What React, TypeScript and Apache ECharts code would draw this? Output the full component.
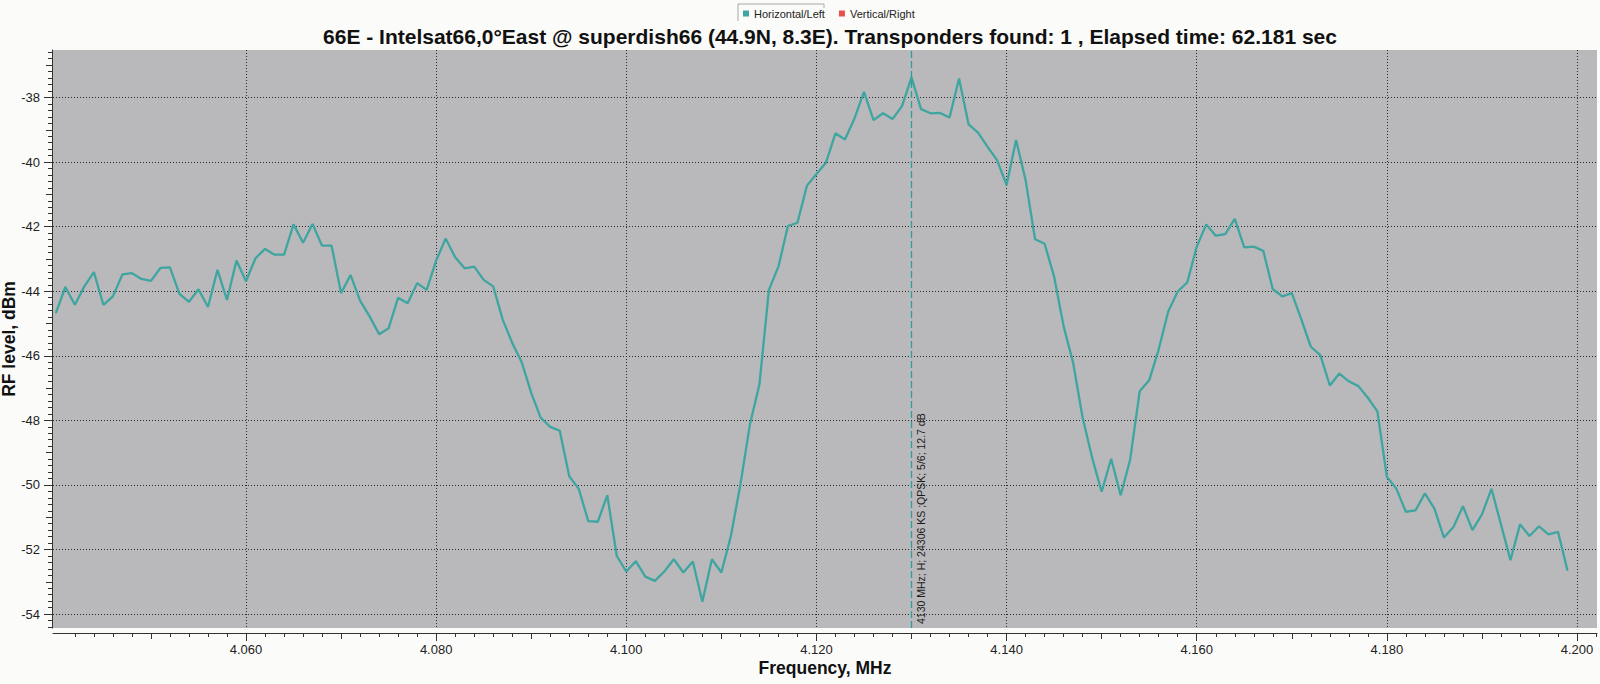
import React, { useEffect, useRef } from "react";
import * as echarts from "echarts";

// ---- data ----
const startFreq = 4.04; // first sweep point
const stepFreq = 0.001; // 1 MHz sweep step
const rfLevels = [
  -44.68, -43.87, -44.42, -43.85, -43.41, -44.42, -44.16, -43.48, -43.44, -43.62,
  -43.68, -43.28, -43.26, -44.08, -44.33, -43.94, -44.49, -43.34, -44.27, -43.05,
  -43.69, -42.98, -42.69, -42.87, -42.87, -41.93, -42.5, -41.92, -42.59, -42.59,
  -44.06, -43.5, -44.29, -44.78, -45.33, -45.15, -44.2, -44.37, -43.75, -43.96,
  -43.05, -42.37, -42.95, -43.29, -43.24, -43.65, -43.85, -44.88, -45.6, -46.2,
  -47.15, -47.92, -48.2, -48.32, -49.73, -50.12, -51.12, -51.14, -50.32, -52.2,
  -52.68, -52.36, -52.84, -52.97, -52.68, -52.3, -52.71, -52.37, -53.62, -52.3,
  -52.71, -51.58, -49.99, -48.13, -46.89, -43.96, -43.24, -41.98, -41.88, -40.73,
  -40.37, -40.02, -39.11, -39.3, -38.65, -37.83, -38.7, -38.49, -38.67, -38.27,
  -37.38, -38.36, -38.49, -38.48, -38.62, -37.41, -38.83, -39.09, -39.53, -39.94,
  -40.71, -39.32, -40.56, -42.39, -42.53, -43.55, -45.09, -46.22, -47.92, -49.16,
  -50.21, -49.19, -50.32, -49.21, -47.1, -46.76, -45.8, -44.63, -44.01, -43.73,
  -42.62, -41.93, -42.28, -42.23, -41.76, -42.64, -42.62, -42.75, -43.94, -44.16,
  -44.06, -44.87, -45.72, -45.98, -46.92, -46.55, -46.79, -46.94, -47.3, -47.72,
  -49.75, -50.12, -50.83, -50.79, -50.26, -50.73, -51.63, -51.3, -50.66, -51.4,
  -50.91, -50.12, -51.22, -52.33, -51.22, -51.58, -51.28, -51.53, -51.45, -52.66,
];
const seriesNames = ["Horizontal/Left", "Vertical/Right"];
const xTickLabels = [4.06, 4.08, 4.1, 4.12, 4.14, 4.16, 4.18, 4.2];
const yTickLabels = [-54, -52, -50, -48, -46, -44, -42, -40, -38];
const transponderFreq = 4.13;
const transponderLabel = "4130 MHz; H; 24306 KS ;QPSK; 5/6; 12.7 dB";
const titleText =
  "66E - Intelsat66,0°East @ superdish66 (44.9N, 8.3E). Transponders found: 1 , Elapsed time: 62.181 sec";
const xAxisName = "Frequency, MHz";
const yAxisName = "RF level, dBm";

const X_MIN = 4.0397;
const X_MAX = 4.2021;
const Y_MIN = -54.43;
const Y_MAX = -36.53;

function steps(from: number, to: number, step: number, digits: number) {
  const out: number[] = [];
  const n = Math.round((to - from) / step);
  for (let i = 0; i <= n; i++) out.push(Number((from + i * step).toFixed(digits)));
  return out;
}

const FONT = "'Liberation Sans', Arial, sans-serif";
const TEAL = "#3fa5a0";
const RED = "#e8504c";

export default function App() {
  const ref = useRef<HTMLDivElement>(null);
  useEffect(() => {
    if (!ref.current) return;
    const chart = echarts.init(ref.current, null, { renderer: "svg" });
    const xMinor = steps(4.042, 4.202, 0.002, 3);
    const xMid = steps(4.05, 4.19, 0.02, 3);
    const yMinor = steps(-54.4, -36.6, 0.2, 1);
    const yMid = steps(-53, -37, 2, 0);
    const data = rfLevels.map((v, i) => [Number((startFreq + i * stepFreq).toFixed(3)), v]);

    const gridLine = { show: true, lineStyle: { color: "#2a2a2a", width: 1, type: [1, 2] as any } };
    const baseX = {
      type: "value" as const,
      min: X_MIN,
      max: X_MAX,
      position: "bottom" as const,
      offset: 5,
      gridIndex: 0,
    };
    const baseY = {
      type: "value" as const,
      min: Y_MIN,
      max: Y_MAX,
      position: "left" as const,
      offset: 1,
      gridIndex: 0,
    };
    const nameFont = `bold 17.5px ${FONT}`;

    chart.setOption({
      animation: false,
      backgroundColor: "#fbfbf9",
      title: {
        text: titleText,
        left: 825,
        top: 21,
        textAlign: "center",
        textStyle: { fontFamily: FONT, fontWeight: "bold", fontSize: 21, color: "#111" },
      },
      legend: {
        data: seriesNames,
        left: 738,
        top: 3,
        icon: "rect",
        itemWidth: 6,
        itemHeight: 6,
        itemGap: 14,
        textStyle: { fontFamily: FONT, fontSize: 11, color: "#222" },
        selectedMode: false,
      },
      grid: {
        left: 53,
        right: 3,
        top: 50,
        bottom: 56,
        show: true,
        backgroundColor: "#b9b9bb",
        borderWidth: 0,
        containLabel: false,
        outerBoundsMode: "none",
      },
      xAxis: [
        {
          ...baseX,
          axisLine: { show: true, lineStyle: { color: "#333", width: 1 } },
          axisTick: { show: true, length: 8, customValues: xTickLabels, lineStyle: { color: "#333" } },
          axisLabel: {
            show: true,
            customValues: xTickLabels,
            margin: 10,
            formatter: (v: number) => v.toFixed(3),
            fontFamily: FONT,
            fontSize: 13,
            color: "#222",
          },
          splitLine: gridLine,
        },
        {
          ...baseX,
          axisLine: { show: false },
          axisTick: { show: true, length: 4, customValues: xMinor, lineStyle: { color: "#333" } },
          axisLabel: { show: false },
          splitLine: { show: false },
        },
        {
          ...baseX,
          axisLine: { show: false },
          axisTick: { show: true, length: 6, customValues: xMid, lineStyle: { color: "#333" } },
          axisLabel: { show: false },
          splitLine: { show: false },
        },
      ],
      yAxis: [
        {
          ...baseY,
          axisLine: { show: true, lineStyle: { color: "#333", width: 1 } },
          axisTick: { show: true, length: 8, customValues: yTickLabels, lineStyle: { color: "#333" } },
          axisLabel: {
            show: true,
            customValues: yTickLabels,
            margin: 12,
            fontFamily: FONT,
            fontSize: 13,
            color: "#222",
          },
          splitLine: gridLine,
        },
        {
          ...baseY,
          axisLine: { show: false },
          axisTick: { show: true, length: 4, customValues: yMinor, lineStyle: { color: "#333" } },
          axisLabel: { show: false },
          splitLine: { show: false },
        },
        {
          ...baseY,
          axisLine: { show: false },
          axisTick: { show: true, length: 6, customValues: yMid, lineStyle: { color: "#333" } },
          axisLabel: { show: false },
          splitLine: { show: false },
        },
      ],
      graphic: [
        {
          type: "polyline",
          shape: { points: [[738, 21], [738, 4], [824, 4], [824, 8]] },
          style: { stroke: "#a8a8a8", lineWidth: 1, fill: "none" },
          silent: true,
        },
        {
          type: "text",
          x: 825,
          y: 668,
          silent: true,
          style: { text: xAxisName, font: nameFont, fill: "#111", textAlign: "center", textVerticalAlign: "middle" },
        },
        {
          type: "text",
          x: 9,
          y: 339,
          rotation: Math.PI / 2,
          silent: true,
          style: { text: yAxisName, font: nameFont, fill: "#111", textAlign: "center", textVerticalAlign: "middle" },
        },
      ],
      series: [
        {
          name: seriesNames[0],
          type: "line",
          xAxisIndex: 0,
          yAxisIndex: 0,
          data,
          showSymbol: false,
          color: TEAL,
          lineStyle: { color: TEAL, width: 2.3 },
          markLine: {
            silent: true,
            symbol: ["none", "none"],
            data: [{ xAxis: transponderFreq }],
            lineStyle: { color: "#2f9d98", width: 1.3, type: [7, 3], opacity: 1 },
            label: {
              show: true,
              formatter: transponderLabel,
              position: "insideStartBottom",
              distance: 4,
              fontFamily: FONT,
              fontSize: 10.5,
              color: "#1a1a1a",
            },
          },
        },
        {
          name: seriesNames[1],
          type: "line",
          xAxisIndex: 0,
          yAxisIndex: 0,
          data: [],
          color: RED,
          lineStyle: { color: RED, width: 2 },
        },
      ],
    });
    return () => chart.dispose();
  }, []);
  return (
    <div
      ref={ref}
      style={{ position: "fixed", left: 0, top: 0, width: 1600, height: 684, background: "#fbfbf9" }}
    />
  );
}
